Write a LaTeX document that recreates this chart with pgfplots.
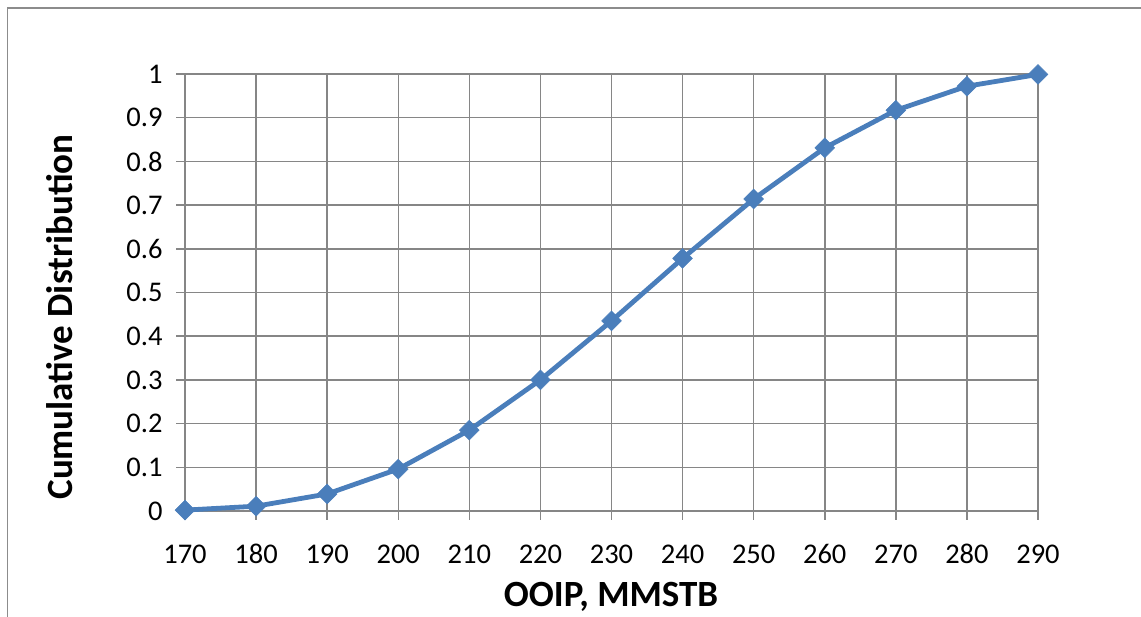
\documentclass[border=0pt]{standalone}
\usepackage{pgfplots}
\pgfplotsset{compat=1.18}
\usepackage{fontspec}
\setmainfont{Carlito}
\definecolor{serblue}{RGB}{74,126,187}
\definecolor{gridgray}{RGB}{134,134,134}
\definecolor{framegray}{RGB}{140,140,140}
\begin{document}
\begin{tikzpicture}[x=1pt,y=1pt]
\useasboundingbox (0,0) rectangle (1141,617);
\begin{scope}
\clip (0,0) rectangle (1141,617);
\draw[framegray, line width=1.5pt] (7.5,-10) -- (7.5,609) -- (1160,609);
\end{scope}
\begin{axis}[
  at={(185pt,106pt)}, anchor=south west,
  width=853pt, height=437pt, scale only axis,
  xmin=170, xmax=290, ymin=0, ymax=1,
  xtick={170,180,190,200,210,220,230,240,250,260,270,280,290},
  ytick={0,0.1,0.2,0.3,0.4,0.5,0.6,0.7,0.8,0.9,1},
  yticklabels={0,0.1,0.2,0.3,0.4,0.5,0.6,0.7,0.8,0.9,1},
  grid=major,
  grid style={gridgray, line width=1.5pt},
  axis line style={gridgray, line width=1.5pt},
  tick style={gridgray, line width=1.5pt},
  tick align=outside,
  major tick length=9pt,
  xtick pos=bottom, ytick pos=left,
  /pgf/number format/assume math mode=true,
  ticklabel style={font=\fontsize{28.5}{34}\selectfont, text=black},
  yticklabel style={anchor=east, xshift=-10pt},
  xticklabel style={anchor=base, yshift=-44pt},
  clip=false,
]
\addplot[serblue, line width=4.8pt, mark=square*, mark size=7pt, mark options={rotate=45, fill=serblue, draw=serblue, line width=0.5pt}] coordinates {
(170,0.002) (180,0.011) (190,0.039) (200,0.096) (210,0.185) (220,0.300) (230,0.435) (240,0.578) (250,0.714) (260,0.831) (270,0.917) (280,0.972) (290,0.999)
};
\end{axis}
\node[font=\fontsize{37}{44}\selectfont\bfseries, rotate=90, anchor=base] at (72,300) {Cumulative Distribution};
\node[font=\fontsize{37}{44}\selectfont\bfseries, anchor=base] at (611,10) {OOIP, MMSTB};
\end{tikzpicture}
\end{document}
